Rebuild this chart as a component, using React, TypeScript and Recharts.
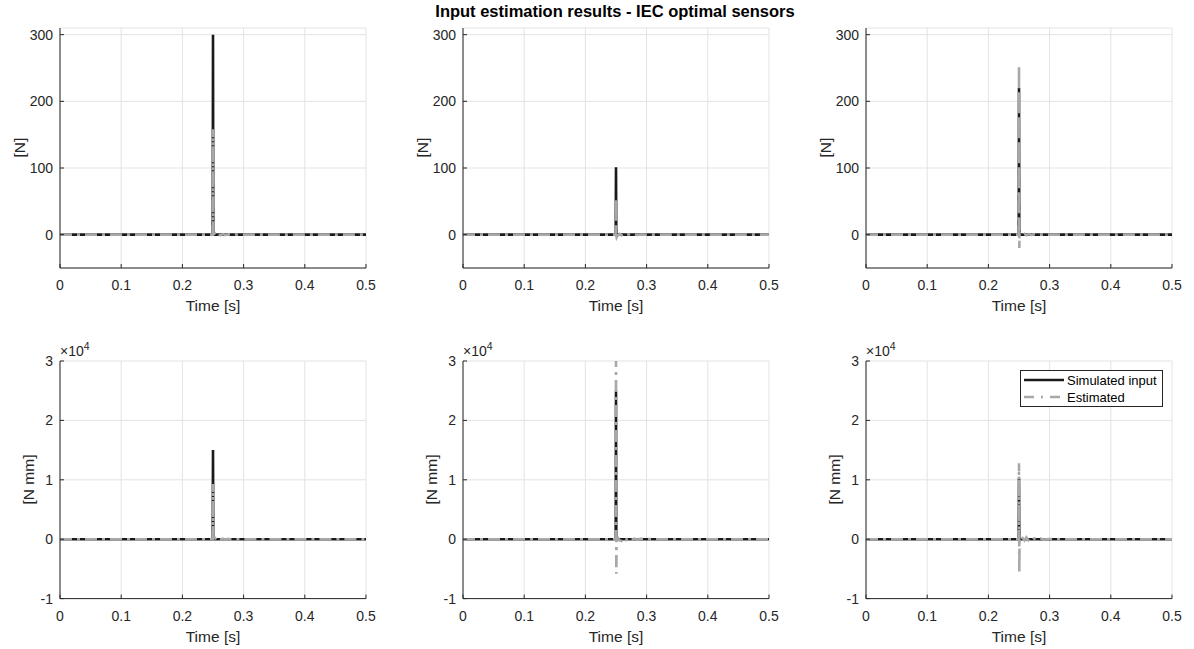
import React from 'react';
import { LineChart, Line, XAxis, YAxis, CartesianGrid, Legend } from 'recharts';

// ---------- data ----------
const TIME = [0, 0.1, 0.2, 0.249, 0.2495, 0.25, 0.2505, 0.251, 0.2515, 0.253, 0.256, 0.259, 0.262, 0.266, 0.27, 0.275, 0.28, 0.285, 0.29, 0.3, 0.31, 0.35, 0.4, 0.45, 0.5];

const SIM_1 = [0, 0, 0, 0, 0, 300, 0, 0, 0, 0, 0, 0, 0, 0, 0, 0, 0, 0, 0, 0, 0, 0, 0, 0, 0];
const EST_1 = [0, 0, 0, 0, 0, 158, 4, -3, 1, 2, -1.5, 1, -1, 0.8, -0.5, 0.4, -0.3, 0.2, 0, 0, 0, 0, 0, 0, 0];
const SIM_2 = [0, 0, 0, 0, 0, 101, 0, 0, 0, 0, 0, 0, 0, 0, 0, 0, 0, 0, 0, 0, 0, 0, 0, 0, 0];
const EST_2 = [0, 0, 0, 0, 0, 55, -2, -4, -3, -1.5, 1, -1, 1, -0.8, 0.6, -0.5, 0.4, -0.3, 0.2, 0, 0, 0, 0, 0, 0];
const SIM_3 = [0, 0, 0, 0, 0, 220, 0, 0, 0, 0, 0, 0, 0, 0, 0, 0, 0, 0, 0, 0, 0, 0, 0, 0, 0];
const EST_3 = [0, 0, 0, 0, 0, 254, -20, 1, 2, 1.5, -1.5, 1, -1, 0.8, -0.5, 0.4, -0.3, 0.2, 0, 0, 0, 0, 0, 0, 0];
const SIM_4 = [0, 0, 0, 0, 0, 15000, 0, 0, 0, 0, 0, 0, 0, 0, 0, 0, 0, 0, 0, 0, 0, 0, 0, 0, 0];
const EST_4 = [0, 0, 0, 0, 0, 9300, -200, 150, 200, 250, -150, 100, -100, 80, -60, 50, -40, 30, 0, 0, 0, 0, 0, 0, 0];
const SIM_5 = [0, 0, 0, 0, 0, 25000, 0, 0, 0, 0, 0, 0, 0, 0, 0, 0, 0, 0, 0, 0, 0, 0, 0, 0, 0];
const EST_5 = [0, 0, 0, 0, 0, 30000, -5800, 200, 300, 250, -200, -300, 200, -150, 200, -150, 100, -80, 60, 40, 0, 0, 0, 0, 0];
const SIM_6 = [0, 0, 0, 0, 0, 10300, 0, 0, 0, 0, 0, 0, 0, 0, 0, 0, 0, 0, 0, 0, 0, 0, 0, 0, 0];
const EST_6 = [0, 0, 0, 0, 0, 12800, -5600, 300, 350, 300, 200, -200, 300, -250, -300, 150, -100, 100, -60, 40, 0, 0, 0, 0, 0];

const X_TICKS = [0, 0.1, 0.2, 0.3, 0.4, 0.5];
const X_TICK_LABELS = ['0', '0.1', '0.2', '0.3', '0.4', '0.5'];
const FORCE_TICKS = [0, 100, 200, 300];
const FORCE_DOMAIN = [-50, 310];
const MOMENT_TICKS = [-10000, 0, 10000, 20000, 30000];
const MOMENT_DOMAIN = [-10000, 30000];
const MOMENT_SCALE = 10000;

const TITLE = 'Input estimation results - IEC optimal sensors';
const X_LABEL = 'Time [s]';
const Y_LABELS = ['[N]', '[N mm]'];
const SERIES_NAMES = ['Simulated input', 'Estimated'];

// ---------- layout / style ----------
const FONT = '"Liberation Sans", Arial, Helvetica, sans-serif';
const AXIS_COLOR = '#262626';
const GRID_COLOR = '#e3e3e3';
const SIM_COLOR = '#1a1a1a';
const EST_COLOR = '#a8a8a8';
const EST_DASH = '12 5 3 5';
const SIM_WIDTH = 2.6;
const EST_WIDTH = 2.6;

const COL_LEFT = [60, 463, 866];
const PLOT_W = 306;
const ROW_TOP = [27.6, 360.7];
const ROW_H = [240, 237.6];
const Y_AXIS_W = 60;
const X_AXIS_H = 40;
const M_TOP = 10;
const M_RIGHT = 10;

const PANELS = [
  { sim: SIM_1, est: EST_1, row: 0, col: 0 },
  { sim: SIM_2, est: EST_2, row: 0, col: 1 },
  { sim: SIM_3, est: EST_3, row: 0, col: 2 },
  { sim: SIM_4, est: EST_4, row: 1, col: 0 },
  { sim: SIM_5, est: EST_5, row: 1, col: 1 },
  { sim: SIM_6, est: EST_6, row: 1, col: 2, legend: true },
];

const tickStyle = { fill: AXIS_COLOR, fontSize: 14, fontFamily: FONT };

const renderLegend = (props: any) => {
  const payload = [...(props.payload || [])].sort(
    (a: any, b: any) => SERIES_NAMES.indexOf(a.value) - SERIES_NAMES.indexOf(b.value)
  );
  return (
    <div
      style={{
        width: 143,
        height: 37,
        boxSizing: 'border-box',
        border: `1px solid ${AXIS_COLOR}`,
        background: '#fff',
        padding: '1px 0 0 3px',
        fontFamily: FONT,
        fontSize: 13,
        color: '#000',
      }}
    >
      {payload.map((entry: any, i: number) => {
        const isEst = entry.value === SERIES_NAMES[1];
        return (
          <div key={i} style={{ display: 'flex', alignItems: 'center', height: 17 }}>
            <svg width={40} height={6} style={{ display: 'block' }}>
              <line
                x1={0}
                y1={3}
                x2={40}
                y2={3}
                stroke={isEst ? EST_COLOR : SIM_COLOR}
                strokeWidth={2.4}
                strokeDasharray={isEst ? '10 7 2 7' : undefined}
              />
            </svg>
            <span style={{ marginLeft: 3, lineHeight: '17px' }}>{entry.value}</span>
          </div>
        );
      })}
    </div>
  );
};

function Panel({ sim, est, row, col, legend }: any) {
  const data = TIME.map((t, i) => ({ t, sim: sim[i], est: est[i] }));
  const plotLeft = COL_LEFT[col];
  const plotTop = ROW_TOP[row];
  const plotH = ROW_H[row];
  const W = Y_AXIS_W + PLOT_W + M_RIGHT;
  const H = M_TOP + plotH + X_AXIS_H;
  const isForce = row === 0;
  const yDomain = isForce ? FORCE_DOMAIN : MOMENT_DOMAIN;
  const yTicks = isForce ? FORCE_TICKS : MOMENT_TICKS;
  const yFmt = (v: number) => (isForce ? String(v) : String(v / MOMENT_SCALE));
  const xFmt = (v: number) => {
    const k = X_TICKS.indexOf(v);
    return k >= 0 ? X_TICK_LABELS[k] : String(v);
  };
  return (
    <div style={{ position: 'absolute', left: plotLeft - Y_AXIS_W, top: plotTop - M_TOP }}>
      <LineChart width={W} height={H} data={data} margin={{ top: M_TOP, right: M_RIGHT, bottom: 0, left: 0 }}>
        <CartesianGrid stroke={GRID_COLOR} strokeWidth={1} />
        <XAxis
          dataKey="t"
          type="number"
          domain={[0, 0.5]}
          ticks={X_TICKS}
          interval={0}
          allowDataOverflow
          tickFormatter={xFmt}
          height={X_AXIS_H}
          tickSize={-4}
          tickMargin={16}
          stroke={AXIS_COLOR}
          tick={tickStyle}
        />
        <XAxis
          xAxisId="top"
          orientation="top"
          type="number"
          domain={[0, 0.5]}
          ticks={X_TICKS}
          interval={0}
          height={0}
          tickSize={-4}
          tick={false}
          stroke={AXIS_COLOR}
        />
        <YAxis
          type="number"
          domain={yDomain}
          ticks={yTicks}
          interval={0}
          allowDataOverflow
          tickFormatter={yFmt}
          width={Y_AXIS_W}
          tickSize={-4}
          tickMargin={11}
          stroke={AXIS_COLOR}
          tick={tickStyle}
        />
        <YAxis
          yAxisId="right"
          orientation="right"
          type="number"
          domain={yDomain}
          ticks={yTicks}
          interval={0}
          allowDataOverflow
          width={0}
          tickSize={-4}
          tick={false}
          stroke={AXIS_COLOR}
        />
        <Line
          dataKey="sim"
          name={SERIES_NAMES[0]}
          type="linear"
          stroke={SIM_COLOR}
          strokeWidth={SIM_WIDTH}
          dot={false}
          activeDot={false}
          isAnimationActive={false}
        />
        <Line
          dataKey="est"
          name={SERIES_NAMES[1]}
          type="linear"
          stroke={EST_COLOR}
          strokeWidth={EST_WIDTH}
          strokeDasharray={EST_DASH}
          dot={false}
          activeDot={false}
          isAnimationActive={false}
        />
        {legend && (
          <Legend
            verticalAlign="middle"
            align="center"
            itemSorter={null as any}
            content={renderLegend}
            wrapperStyle={{ left: 214, top: 19, width: 143, height: 37 }}
          />
        )}
      </LineChart>
    </div>
  );
}

export default function App() {
  return (
    <div style={{ position: 'absolute', left: 0, top: 0, width: 1194, height: 649, background: '#fff', overflow: 'hidden' }}>
      {PANELS.map((p, i) => (
        <Panel key={i} {...p} />
      ))}
      <svg
        width={1194}
        height={649}
        style={{ position: 'absolute', left: 0, top: 0, pointerEvents: 'none' }}
        fontFamily={FONT}
      >
        <text x={615} y={17} textAnchor="middle" fontWeight="bold" fontSize={16.5} fill="#000">
          {TITLE}
        </text>
        {COL_LEFT.map((left, c) => (
          <g key={c}>
            <text
              x={left - 35}
              y={ROW_TOP[0] + ROW_H[0] / 2}
              transform={`rotate(-90 ${left - 35} ${ROW_TOP[0] + ROW_H[0] / 2})`}
              textAnchor="middle"
              fontSize={15.5}
              fill={AXIS_COLOR}
            >
              {Y_LABELS[0]}
            </text>
            <text
              x={left - 26}
              y={ROW_TOP[1] + ROW_H[1] / 2}
              transform={`rotate(-90 ${left - 26} ${ROW_TOP[1] + ROW_H[1] / 2})`}
              textAnchor="middle"
              fontSize={15.5}
              fill={AXIS_COLOR}
            >
              {Y_LABELS[1]}
            </text>
            <text x={left + PLOT_W / 2} y={ROW_TOP[0] + ROW_H[0] + 43.5} textAnchor="middle" fontSize={15.5} fill={AXIS_COLOR}>
              {X_LABEL}
            </text>
            <text x={left + PLOT_W / 2} y={ROW_TOP[1] + ROW_H[1] + 43.5} textAnchor="middle" fontSize={15.5} fill={AXIS_COLOR}>
              {X_LABEL}
            </text>
            <text x={left} y={356} fontSize={14} fill={AXIS_COLOR}>
              ×10
              <tspan dy={-6} fontSize={10.5}>4</tspan>
            </text>
          </g>
        ))}
      </svg>
    </div>
  );
}
